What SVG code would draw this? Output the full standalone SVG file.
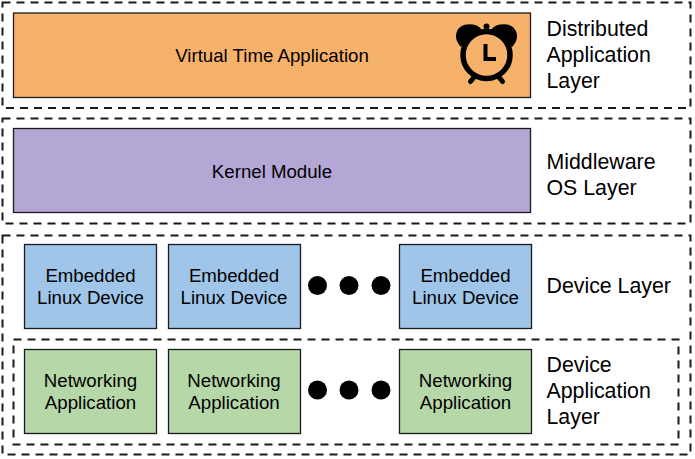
<svg xmlns="http://www.w3.org/2000/svg" width="695" height="459" viewBox="0 0 695 459">
<style>
text{font-family:"Liberation Sans",Arial,sans-serif;fill:#000}
.c{font-size:18.67px;text-anchor:middle}
.l{font-size:21.33px}
.d{fill:none;stroke:#1a1a1a;stroke-width:2;stroke-dasharray:8 6}
.b{stroke:#1a1a1a;stroke-width:1.3}
.o{fill:#f6b26b}.p{fill:#b4a7d6}.u{fill:#9fc5e8}.g{fill:#b6d7a8}
</style>
<rect width="695" height="459" fill="#fff"/>
<g id="layers">
<rect class="d" x="2.5" y="2.5" width="688" height="105.500"/>
<rect class="d" x="2.500" y="118.500" width="688" height="105"/>
<rect class="d" x="2.500" y="235.500" width="688" height="219"/>
<rect class="d" x="13.500" y="339.500" width="665" height="105"/>
</g>
<g id="virtual-time"><rect class="b o" x="13.500" y="13" width="517" height="84.500"/><text class="c" x="272" y="62">Virtual Time Application</text>
<g id="clock">
<circle cx="486.500" cy="55" r="23.500" fill="none" stroke="#000" stroke-width="5.500"/>
<path d="M485.500 44V59H496" fill="none" stroke="#000" stroke-width="4"/>
<path d="M461 46C453 37 457 25 469 25C475 25 479 27 481 30C472 32 465 38 461 46ZM512 46C520 37 516 25 504 25C498 25 494 27 492 30C501 32 508 38 512 46Z" fill="#000" stroke="#000" stroke-width="1.500" stroke-linejoin="round"/>
<circle cx="486.500" cy="26.500" r="3"/><path d="M486.500 27V33" stroke="#000" stroke-width="2.500"/>
<path d="M475 76L470.500 81.500M498 76L502.500 81.500" stroke="#000" stroke-width="5" stroke-linecap="round"/>
</g></g>
<g id="kernel"><rect class="b p" x="13.500" y="128.500" width="517" height="84"/><text class="c" x="272" y="177.500">Kernel Module</text></g>
<g id="device-1"><rect class="b u" x="24.500" y="244.500" width="132" height="84"/><text class="c" x="90.500" y="282">Embedded</text><text class="c" x="90.500" y="304">Linux Device</text></g>
<g id="device-2"><rect class="b u" x="168.500" y="244.500" width="132" height="84"/><text class="c" x="234" y="282">Embedded</text><text class="c" x="234" y="304">Linux Device</text></g>
<g id="device-3"><rect class="b u" x="399.500" y="244.500" width="132" height="84"/><text class="c" x="465.500" y="282">Embedded</text><text class="c" x="465.500" y="304">Linux Device</text></g>
<g id="app-1"><rect class="b g" x="24.500" y="349.500" width="132" height="84"/><text class="c" x="90.500" y="387">Networking</text><text class="c" x="90.500" y="409">Application</text></g>
<g id="app-2"><rect class="b g" x="168.500" y="349.500" width="132" height="84"/><text class="c" x="234" y="387">Networking</text><text class="c" x="234" y="409">Application</text></g>
<g id="app-3"><rect class="b g" x="399.500" y="349.500" width="132" height="84"/><text class="c" x="465.500" y="387">Networking</text><text class="c" x="465.500" y="409">Application</text></g>
<g id="dots">
<circle cx="317.500" cy="285.500" r="9.500"/><circle cx="349" cy="285.500" r="9.500"/><circle cx="381" cy="285.500" r="9.500"/>
<circle cx="317.500" cy="390" r="9.500"/><circle cx="349" cy="390" r="9.500"/><circle cx="381" cy="390" r="9.500"/>
</g>
<g id="labels">
<text class="l" x="546.500" y="36">Distributed</text><text class="l" x="546.500" y="62">Application</text><text class="l" x="546.500" y="88">Layer</text>
<text class="l" x="546.500" y="169">Middleware</text><text class="l" x="546.500" y="195">OS Layer</text>
<text class="l" x="546.500" y="292.500">Device Layer</text>
<text class="l" x="546.500" y="372">Device</text><text class="l" x="546.500" y="398">Application</text><text class="l" x="546.500" y="424">Layer</text>
</g>
</svg>
